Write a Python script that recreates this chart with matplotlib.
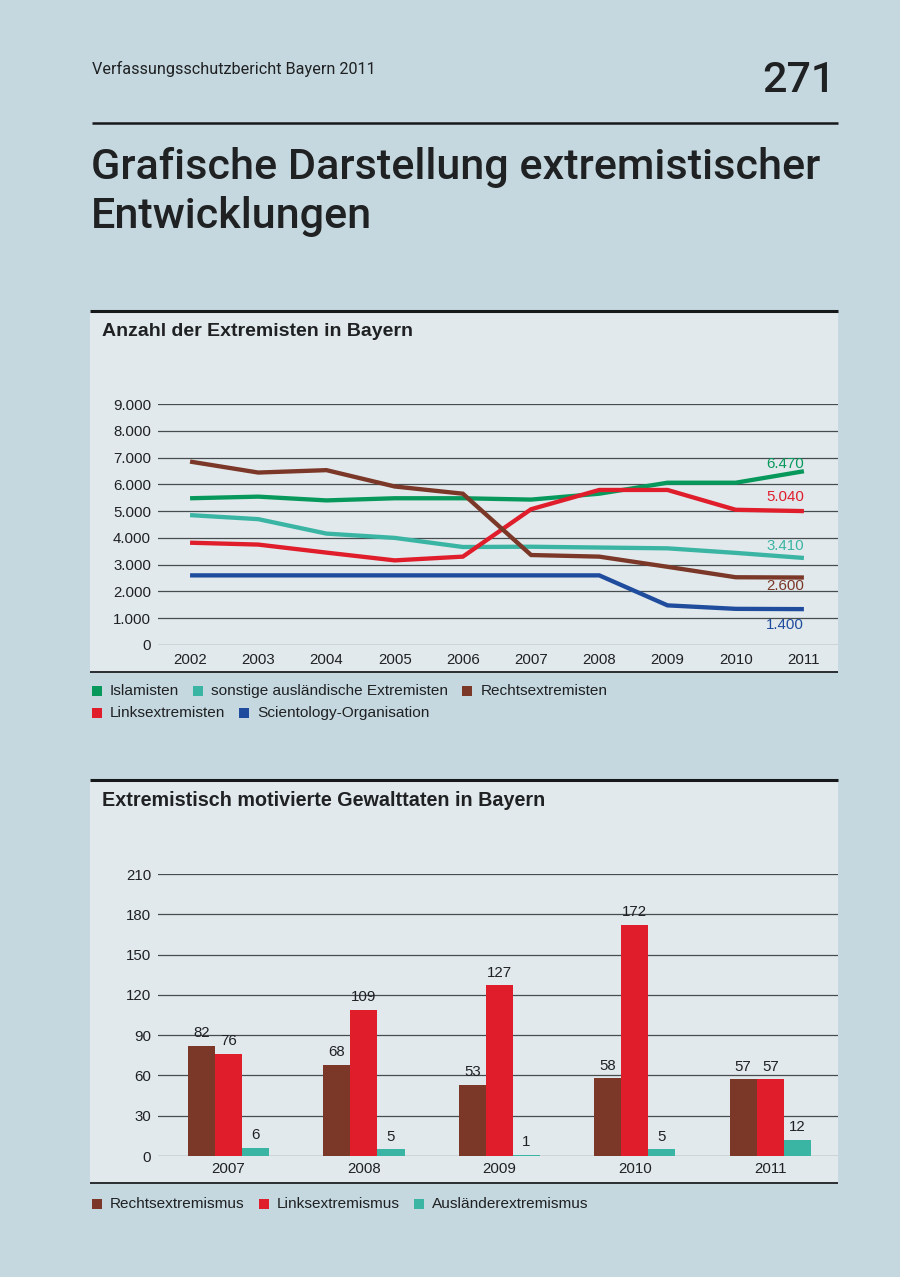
import matplotlib
matplotlib.use("Agg")
import matplotlib.pyplot as plt
from matplotlib.patches import Rectangle
from matplotlib.lines import Line2D
from matplotlib.ticker import FuncFormatter
import numpy as np

# ---------------- data ----------------
years = [2002, 2003, 2004, 2005, 2006, 2007, 2008, 2009, 2010, 2011]
islamisten = [5480, 5540, 5400, 5480, 5480, 5430, 5650, 6060, 6060, 6490]
sonstige_ausl = [4850, 4700, 4160, 4000, 3660, 3670, 3640, 3610, 3440, 3250]
rechtsextremisten = [6850, 6440, 6530, 5920, 5650, 3360, 3300, 2920, 2530, 2520]
linksextremisten = [3820, 3750, 3450, 3160, 3300, 5070, 5790, 5790, 5050, 5000]
scientology = [2600, 2600, 2600, 2600, 2600, 2600, 2600, 1480, 1350, 1340]
end_labels = ["6.470", "3.410", "2.600", "5.040", "1.400"]
line_names = ["Islamisten", "sonstige ausländische Extremisten", "Rechtsextremisten",
              "Linksextremisten", "Scientology-Organisation"]
line_yticks = list(range(0, 9001, 1000))

bar_years = ["2007", "2008", "2009", "2010", "2011"]
rechtsextremismus = [82, 68, 53, 58, 57]
linksextremismus = [76, 109, 127, 172, 57]
auslaenderextremismus = [6, 5, 1, 5, 12]
bar_names = ["Rechtsextremismus", "Linksextremismus", "Ausländerextremismus"]
bar_yticks = list(range(0, 211, 30))

# ---------------- styles ----------------
BG = "#c5d8df"
PANEL = "#e1e9ec"
GRID = "#474c4f"
TXT = "#1f2123"
GREEN = "#07995c"
TEAL = "#3bb5a3"
BROWN = "#7b3727"
RED = "#e01d2b"
BLUE = "#1f4c9d"

CHART_FONT = ["Liberation Sans", "DejaVu Sans"]
HEAD_FONT = ["Roboto", "DejaVu Sans"]
plt.rcParams["font.family"] = CHART_FONT

W, H = 900, 1277
fig = plt.figure(figsize=(W / 100, H / 100), dpi=100)
fig.patch.set_facecolor(BG)


def fx(x):
    return x / W


def fy(y):
    return 1 - y / H


def hline(y, x0, x1, lw, color):
    fig.add_artist(Line2D([fx(x0), fx(x1)], [fy(y), fy(y)], transform=fig.transFigure,
                          lw=lw, color=color, solid_capstyle="butt", zorder=3))


def panel(y0, y1):
    fig.add_artist(Rectangle((fx(90), fy(y1)), fx(838) - fx(90), (y1 - y0) / H,
                             transform=fig.transFigure, facecolor=PANEL,
                             edgecolor="none", zorder=-5))
    hline(y0, 90, 838, 2.2, "#161819")
    hline(y1, 90, 838, 1.4, "#2a2d2f")


# header
fig.text(fx(92), fy(74), "Verfassungsschutzbericht Bayern 2011", family=HEAD_FONT,
         fontsize=11.7, color=TXT, va="baseline", ha="left")
fig.text(fx(836), fy(92), "271", family=HEAD_FONT, fontsize=31, weight="medium",
         color=TXT, va="baseline", ha="right")
hline(123, 92, 838, 1.8, "#161819")
fig.text(fx(91), fy(179), "Grafische Darstellung extremistischer", family=HEAD_FONT,
         fontsize=31.1, weight="medium", color=TXT, va="baseline", ha="left")
fig.text(fx(91), fy(228), "Entwicklungen", family=HEAD_FONT,
         fontsize=31.1, weight="medium", color=TXT, va="baseline", ha="left")

# ---------------- panel 1: line chart ----------------
panel(311, 672)
fig.text(fx(102), fy(336), "Anzahl der Extremisten in Bayern", fontsize=14,
         weight="bold", color=TXT, va="baseline", ha="left")

ax1 = fig.add_axes([fx(158), fy(645), fx(838) - fx(158), (645 - 404) / H])
ax1.set_facecolor("none")
ax1.set_xlim(2001.53, 2011.5)
ax1.set_ylim(0, 9000)
ax1.set_yticks(line_yticks)
ax1.yaxis.set_major_formatter(FuncFormatter(lambda v, p: f"{int(v):,}".replace(",", ".")))
ax1.set_xticks(years)
ax1.set_xticklabels([str(y) for y in years])
ax1.tick_params(length=0, labelsize=10.8, colors=TXT)
ax1.tick_params(axis="y", pad=5)
ax1.tick_params(axis="x", pad=6)
for s in ax1.spines.values():
    s.set_visible(False)
ax1.yaxis.grid(True, color=GRID, lw=0.9)
ax1.set_axisbelow(True)

series = [islamisten, sonstige_ausl, rechtsextremisten, linksextremisten, scientology]
colors = [GREEN, TEAL, BROWN, RED, BLUE]
zord = [3, 2, 6, 5, 4]
offsets = [5, 8.6, -5.8, 10, -11.5]
for vals, c, z, lab, off in zip(series, colors, zord, end_labels, offsets):
    ax1.plot(years, vals, color=c, lw=3.1, solid_joinstyle="miter",
             solid_capstyle="butt", zorder=z, clip_on=False)
    ax1.annotate(lab, xy=(years[-1], vals[-1]), xytext=(0, off),
                 textcoords="offset points", ha="right", va="center",
                 color=c, fontsize=10.8, zorder=7)

# legends
renderer = fig.canvas.get_renderer()


def legend_row(items, y, x=92):
    for name, c in items:
        fig.add_artist(Rectangle((fx(x), fy(y + 5)), 10 / W, 10 / H,
                                 transform=fig.transFigure, facecolor=c,
                                 edgecolor="none"))
        t = fig.text(fx(x + 18), fy(y), name, fontsize=11.1, color=TXT,
                     va="center", ha="left")
        bb = t.get_window_extent(renderer=renderer)
        x = x + 18 + bb.width + 14


legend_row([(line_names[0], GREEN), (line_names[1], TEAL), (line_names[2], BROWN)], 691)
legend_row([(line_names[3], RED), (line_names[4], BLUE)], 713)

# ---------------- panel 2: bar chart ----------------
panel(780, 1183)
fig.text(fx(102), fy(806), "Extremistisch motivierte Gewalttaten in Bayern", fontsize=14.2,
         weight="bold", color=TXT, va="baseline", ha="left")

ax2 = fig.add_axes([fx(158), fy(1156), fx(838) - fx(158), (1156 - 874) / H])
ax2.set_facecolor("none")
x = np.arange(len(bar_years))
bw = 0.2
ax2.set_xlim(-0.52, 4.5)
ax2.set_ylim(0, 210)
ax2.set_yticks(bar_yticks)
ax2.set_xticks(x)
ax2.set_xticklabels(bar_years)
ax2.tick_params(length=0, labelsize=10.8, colors=TXT)
ax2.tick_params(axis="y", pad=5)
ax2.tick_params(axis="x", pad=4)
for s in ax2.spines.values():
    s.set_visible(False)
ax2.yaxis.grid(True, color=GRID, lw=0.9)
ax2.set_axisbelow(True)

for vals, c, dx in zip([rechtsextremismus, linksextremismus, auslaenderextremismus],
                       [BROWN, RED, TEAL], [-bw, 0, bw]):
    bars = ax2.bar(x + dx, vals, width=bw, color=c, edgecolor="none", zorder=3)
    ax2.bar_label(bars, padding=4, fontsize=10.8, color=TXT)

legend_row([(bar_names[0], BROWN), (bar_names[1], RED), (bar_names[2], TEAL)], 1204)

fig.savefig("out.png", dpi=100, facecolor=BG)
